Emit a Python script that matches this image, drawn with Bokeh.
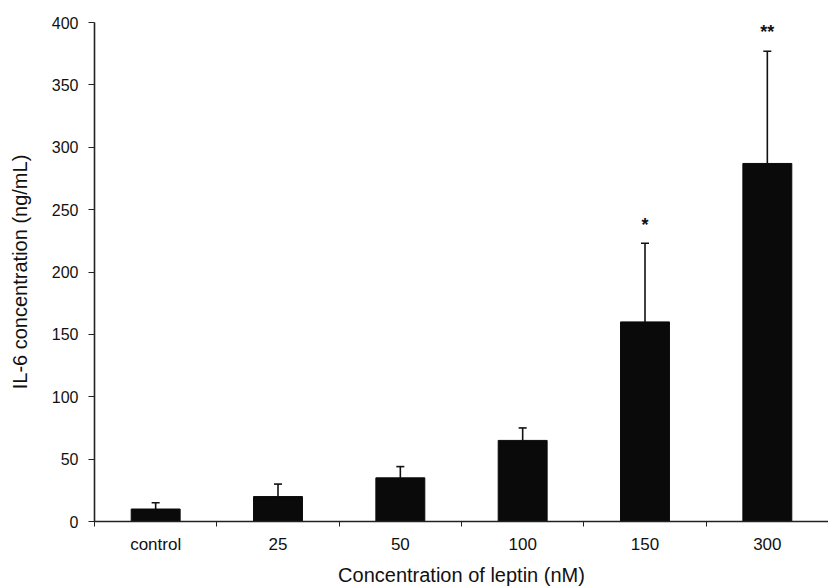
import numpy as np
from bokeh.plotting import figure
from bokeh.models import (ColumnDataSource, Range1d, FixedTicker, Whisker, TeeHead)
from bokeh.core.properties import value
from bokeh.embed import file_html
from bokeh.resources import INLINE

# ---- data ----
categories = ["control", "25", "50", "100", "150", "300"]
il6_mean = [10, 20, 35, 65, 160, 287]
il6_sd = [5, 10, 9, 10, 63, 90]
significance = ["", "", "", "", "*", "**"]
y_ticks = [0, 50, 100, 150, 200, 250, 300, 350, 400]

FONT = "Liberation Sans"

x_pos = [i + 0.5 for i in range(len(categories))]
upper = [m + s for m, s in zip(il6_mean, il6_sd)]
star_y = [u + 15 for u in upper]

src = ColumnDataSource(dict(x=x_pos, top=il6_mean, upper=upper,
                            star_y=star_y, star=significance))

p = figure(width=828, height=588, output_backend="svg", toolbar_location=None,
           x_range=Range1d(0, len(categories)), y_range=Range1d(0, 400),
           min_border_left=94, min_border_right=0, min_border_top=22,
           min_border_bottom=67)
p.outline_line_color = None
p.xgrid.visible = False
p.ygrid.visible = False
p.background_fill_color = "white"
p.border_fill_color = "white"

p.vbar(x="x", top="top", bottom=0, width=0.4, source=src,
       fill_color="#0a0a0a", line_color="#0a0a0a")

p.add_layout(Whisker(base="x", lower="top", upper="upper", source=src,
                     dimension="height", line_color="#111111", line_width=1.6,
                     lower_head=None,
                     upper_head=TeeHead(size=8, line_color="#111111", line_width=1.6)))

p.text(x="x", y="star_y", text="star", source=src, text_align="center",
       text_baseline="middle", text_font=value(FONT), text_font_size="18px",
       text_font_style="bold", text_color="#111111")

# x axis: labels at category centres, small ticks at boundaries
xa = p.xaxis[0]
xa.ticker = FixedTicker(ticks=x_pos,
                        minor_ticks=list(range(len(categories) + 1)))
xa.major_label_overrides = {x: c for x, c in zip(x_pos, categories)}
xa.major_tick_line_color = None
xa.minor_tick_line_color = "#222222"
xa.minor_tick_out = 5
xa.minor_tick_in = 0
xa.axis_line_color = "#222222"
xa.axis_line_width = 1.6
xa.major_label_text_font = FONT
xa.major_label_text_font_size = "17px"
xa.major_label_text_color = "#111111"
xa.major_label_standoff = 7
xa.axis_label = "Concentration of leptin (nM)"
xa.axis_label_text_font = FONT
xa.axis_label_text_font_size = "20px"
xa.axis_label_text_font_style = "normal"
xa.axis_label_text_color = "#111111"
xa.axis_label_standoff = 7

ya = p.yaxis[0]
ya.ticker = FixedTicker(ticks=y_ticks)
ya.minor_tick_line_color = None
ya.major_tick_out = 6
ya.major_tick_in = 0
ya.major_tick_line_color = "#222222"
ya.axis_line_color = "#222222"
ya.axis_line_width = 1.6
ya.major_label_text_font = FONT
ya.major_label_text_font_size = "16px"
ya.major_label_text_color = "#111111"
ya.major_label_standoff = 10
ya.axis_label = "IL-6 concentration (ng/mL)"
ya.axis_label_text_font = FONT
ya.axis_label_text_font_size = "20px"
ya.axis_label_text_font_style = "normal"
ya.axis_label_text_color = "#111111"
ya.axis_label_standoff = 18

open("out.html", "w").write(file_html(p, INLINE))
